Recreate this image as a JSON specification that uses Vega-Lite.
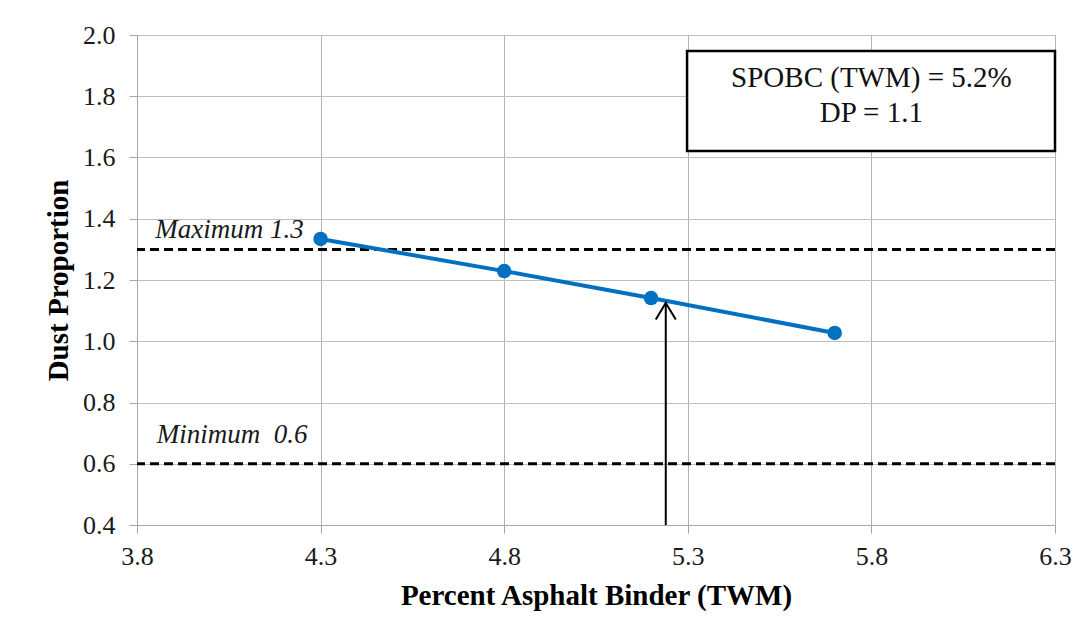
{
  "$schema": "https://vega.github.io/schema/vega-lite/v6.json",
  "autosize": {"type": "none"},
  "padding": {"left": 137, "top": 35, "right": 37, "bottom": 115},
  "width": 918,
  "height": 490,
  "background": "white",
  "config": {
    "view": {"stroke": null},
    "font": "Liberation Serif"
  },
  "layer": [
    {
      "data": {"values": [{"dp": 1.3}, {"dp": 0.6}]},
      "mark": {"type": "rule", "color": "black", "strokeWidth": 3, "strokeDash": [9, 5]},
      "encoding": {
        "y": {
          "field": "dp", "type": "quantitative",
          "scale": {"domain": [0.4, 2.0], "nice": false, "zero": false},
          "axis": {
            "title": "Dust Proportion",
            "values": [0.4, 0.5, 0.6, 0.7, 0.8, 0.9, 1.0, 1.1, 1.2, 1.3, 1.4, 1.5, 1.6, 1.7, 1.8, 1.9, 2.0],
            "labelExpr": "round(datum.value*10)%2==0 ? format(datum.value, '.1f') : ''",
            "tickOpacity": {"condition": {"test": "round(datum.value*10)%2==1", "value": 0}, "value": 1},
            "tickSize": 8,
            "tickColor": "#a6a6a6",
            "domainColor": "#a6a6a6",
            "gridColor": "#bfbfbf",
            "gridWidth": 1,
            "labelFont": "Liberation Serif",
            "labelFontSize": 26,
            "labelColor": "#1a1a1a",
            "labelPadding": 14,
            "titleFont": "Liberation Serif",
            "titleFontSize": 29,
            "titleFontWeight": "bold",
            "titleColor": "black",
            "titlePadding": 9
          }
        }
      }
    },
    {
      "data": {"values": [{"binder": 5.298, "binder2": 6.3, "dp": 1.948, "dp2": 1.621}]},
      "mark": {"type": "rect", "fill": "white", "stroke": "black", "strokeWidth": 2.5},
      "encoding": {
        "x": {"field": "binder", "type": "quantitative"},
        "x2": {"field": "binder2"},
        "y": {"field": "dp", "type": "quantitative"},
        "y2": {"field": "dp2"}
      }
    },
    {
      "data": {"values": [
        {"binder": 4.3, "dp": 1.334},
        {"binder": 4.8, "dp": 1.229},
        {"binder": 5.2, "dp": 1.141},
        {"binder": 5.7, "dp": 1.027}
      ]},
      "layer": [
        {
          "mark": {"type": "line", "color": "#0070C0", "strokeWidth": 4},
          "encoding": {
            "x": {
              "field": "binder", "type": "quantitative",
              "scale": {"domain": [3.8, 6.3], "nice": false, "zero": false},
              "axis": {
                "title": "Percent Asphalt Binder (TWM)",
                "values": [3.8, 4.3, 4.8, 5.3, 5.8, 6.3],
                "format": ".1f",
                "tickSize": 8,
                "tickColor": "#a6a6a6",
                "domainColor": "#a6a6a6",
                "gridColor": "#b3b3b3",
                "gridWidth": 1,
                "labelFont": "Liberation Serif",
                "labelFontSize": 26,
                "labelColor": "#1a1a1a",
                "labelPadding": 10,
                "labelFlush": false,
                "titleFont": "Liberation Serif",
                "titleFontSize": 29,
                "titleFontWeight": "bold",
                "titleColor": "black",
                "titlePadding": 12
              }
            },
            "y": {"field": "dp", "type": "quantitative"}
          }
        },
        {
          "mark": {"type": "point", "filled": true, "color": "#0070C0", "size": 210, "opacity": 1},
          "encoding": {
            "x": {"field": "binder", "type": "quantitative"},
            "y": {"field": "dp", "type": "quantitative"}
          }
        }
      ]
    },
    {
      "data": {"values": [{"binder": 5.24, "dp": 0.4, "dp2": 1.125}]},
      "layer": [
        {
          "mark": {"type": "rule", "color": "black", "strokeWidth": 2},
          "encoding": {
            "x": {"field": "binder", "type": "quantitative"},
            "y": {"field": "dp", "type": "quantitative"},
            "y2": {"field": "dp2"}
          }
        },
        {
          "mark": {"type": "point", "shape": "M-1,1.65L0,0L1,1.65", "filled": false, "stroke": "black", "strokeWidth": 2, "size": 400, "opacity": 1},
          "encoding": {
            "x": {"field": "binder", "type": "quantitative"},
            "y": {"field": "dp2", "type": "quantitative"}
          }
        }
      ]
    },
    {
      "data": {"values": [
        {"binder": 3.85, "dp": 1.337, "label": "Maximum 1.3"},
        {"binder": 3.854, "dp": 0.668, "label": "Minimum\u00a0 0.6"}
      ]},
      "mark": {"type": "text", "align": "left", "baseline": "alphabetic", "font": "Liberation Serif", "fontSize": 27, "fontStyle": "italic", "color": "#1a1a1a"},
      "encoding": {
        "x": {"field": "binder", "type": "quantitative"},
        "y": {"field": "dp", "type": "quantitative"},
        "text": {"field": "label"}
      }
    },
    {
      "data": {"values": [
        {"binder": 5.8, "dp": 1.83, "label": "SPOBC (TWM) = 5.2%"},
        {"binder": 5.8, "dp": 1.716, "label": "DP = 1.1"}
      ]},
      "mark": {"type": "text", "align": "center", "baseline": "alphabetic", "font": "Liberation Serif", "fontSize": 29, "color": "#111111"},
      "encoding": {
        "x": {"field": "binder", "type": "quantitative"},
        "y": {"field": "dp", "type": "quantitative"},
        "text": {"field": "label"}
      }
    }
  ]
}
